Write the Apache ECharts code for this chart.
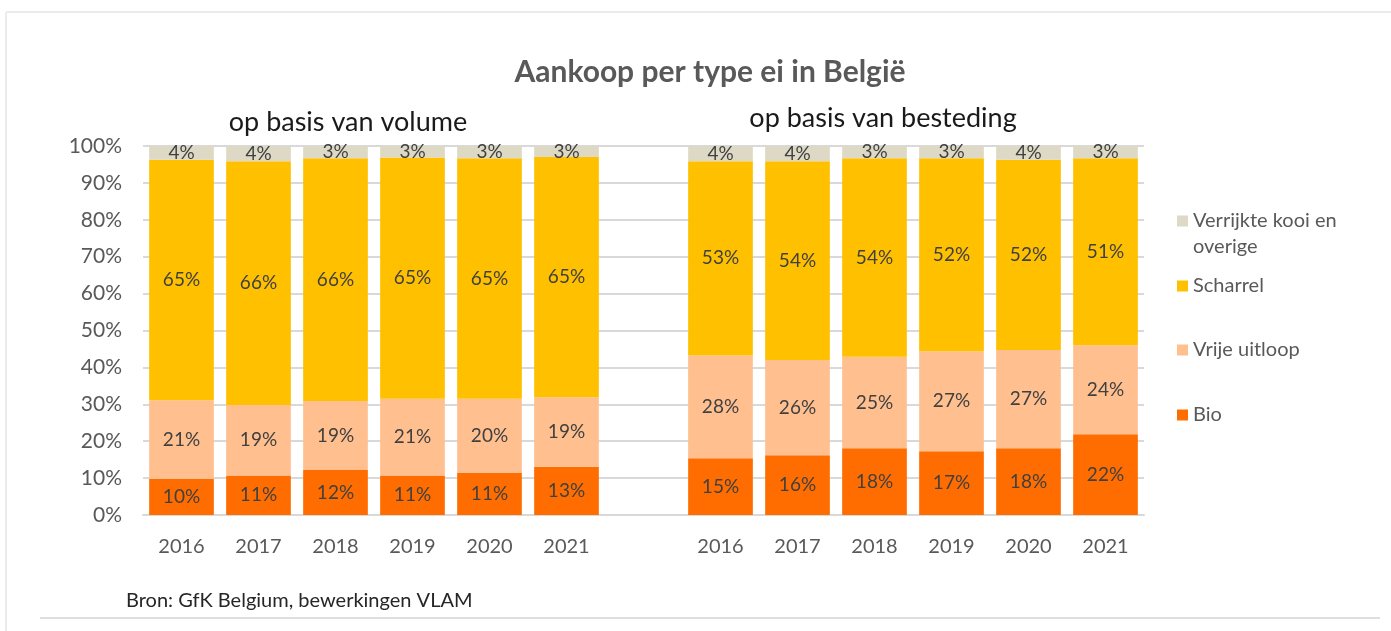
<!DOCTYPE html>
<html>
<head>
<meta charset="utf-8">
<script src="https://cdn.jsdelivr.net/npm/echarts@6/dist/echarts.min.js"></script>
<style>
html,body{margin:0;padding:0;background:#fff;}
#chart{width:1391px;height:631px;}
</style>
</head>
<body>
<div id="chart"></div>
<script>
// ---- data ----
var years = ['2016', '2017', '2018', '2019', '2020', '2021'];
var seriesNames = ['Bio', 'Vrije uitloop', 'Scharrel', 'Verrijkte kooi en overige'];
// op basis van volume (%)
var volBio      = [9.8, 10.7, 12.2, 10.7, 11.4, 13.1];
var volVrije    = [21.3, 19.1, 18.7, 20.8, 20.1, 18.8];
var volScharrel = [65.2, 66.1, 65.8, 65.4, 65.2, 65.1];
var volOverig   = [3.7, 4.1, 3.3, 3.1, 3.3, 3.0];
// op basis van besteding (%)
var spBio      = [15.4, 16.2, 18.1, 17.3, 18.1, 21.9];
var spVrije    = [27.8, 25.8, 24.8, 27.1, 26.6, 24.1];
var spScharrel = [52.7, 53.9, 53.8, 52.3, 51.6, 50.7];
var spOverig   = [4.1, 4.1, 3.3, 3.3, 3.7, 3.3];
var yTicks = [0, 10, 20, 30, 40, 50, 60, 70, 80, 90, 100];

// ---- build ----
var categories = years.concat(['']).concat(years);
function join(a, b) { return a.concat([null]).concat(b); }
var seriesData = [
  join(volBio, spBio),
  join(volVrije, spVrije),
  join(volScharrel, spScharrel),
  join(volOverig, spOverig)
];
var colors = ['#FF6D00', '#FFBF8F', '#FFC000', '#DDD9C4'];
var FONT = 'Lato';
var GRAY = '#595959';

var series = seriesNames.map(function (name, i) {
  return {
    name: name,
    type: 'bar',
    stack: 'total',
    barCategoryGap: '16%',
    itemStyle: { color: colors[i] },
    emphasis: { disabled: true },
    label: {
      show: true,
      position: 'inside',
      color: '#404040',
      fontFamily: FONT,
      fontSize: 19,
      formatter: function (p) { return p.value == null ? '' : Math.round(p.value) + '%'; }
    },
    data: seriesData[i]
  };
});

var LH = 26;
function legendItem(name, centerY, twoLine) {
  return {
    show: true,
    orient: 'vertical',
    left: 1177,
    top: twoLine ? centerY - 1.5 * LH : centerY - LH / 2,
    padding: 0,
    data: [name],
    itemWidth: 11,
    itemHeight: 11,
    itemGap: 6,
    icon: 'rect',
    selectedMode: false,
    formatter: twoLine ? function () { return ' \nVerrijkte kooi en\noverige'; } : '{name}',
    textStyle: {
      color: GRAY,
      fontFamily: FONT,
      fontSize: 20,
      lineHeight: LH
    }
  };
}

var chart = echarts.init(document.getElementById('chart'), null, { renderer: 'canvas' });
chart.setOption({
  animation: false,
  backgroundColor: '#ffffff',
  grid: { left: 143, right: 247, top: 146, bottom: 116, containLabel: false },
  xAxis: {
    type: 'category',
    data: categories,
    axisLine: { show: true, lineStyle: { color: '#D9D9D9', width: 2 } },
    axisTick: { show: false },
    axisLabel: { color: GRAY, fontFamily: FONT, fontSize: 20, margin: 22, interval: 0 }
  },
  yAxis: {
    type: 'value',
    min: yTicks[0],
    max: yTicks[yTicks.length - 1],
    interval: 10,
    axisLine: { show: false },
    axisTick: { show: false },
    splitLine: { lineStyle: { color: '#D9D9D9', width: 2 } },
    axisLabel: { color: GRAY, fontFamily: FONT, fontSize: 21, margin: 21, formatter: '{value}%' }
  },
  legend: [
    legendItem(seriesNames[3], 221, true),
    legendItem(seriesNames[2], 286, false),
    legendItem(seriesNames[1], 350, false),
    legendItem(seriesNames[0], 415, false)
  ],
  series: series,
  graphic: [
    { type: 'line', shape: { x1: 6, y1: 12, x2: 1391, y2: 12 }, style: { stroke: '#EBEBEB', lineWidth: 2 }, silent: true },
    { type: 'line', shape: { x1: 6, y1: 12, x2: 6, y2: 631 }, style: { stroke: '#EBEBEB', lineWidth: 2 }, silent: true },
    { type: 'line', shape: { x1: 40, y1: 618, x2: 1380, y2: 618 }, style: { stroke: '#DEDEDE', lineWidth: 2 }, silent: true },
    { type: 'text', x: 710, y: 72, style: { text: 'Aankoop per type ei in België', fill: GRAY, font: 'bold 30px Lato', textAlign: 'center', textVerticalAlign: 'middle' }, silent: true },
    { type: 'text', x: 348, y: 122, style: { text: 'op basis van volume', fill: '#1a1a1a', font: '27px Lato', textAlign: 'center', textVerticalAlign: 'middle' }, silent: true },
    { type: 'text', x: 883, y: 118, style: { text: 'op basis van besteding', fill: '#1a1a1a', font: '27px Lato', textAlign: 'center', textVerticalAlign: 'middle' }, silent: true },
    { type: 'text', x: 126, y: 601, style: { text: 'Bron: GfK Belgium, bewerkingen VLAM', fill: '#262626', font: '20px Lato', textAlign: 'left', textVerticalAlign: 'middle' }, silent: true }
  ]
});
</script>
</body>
</html>
